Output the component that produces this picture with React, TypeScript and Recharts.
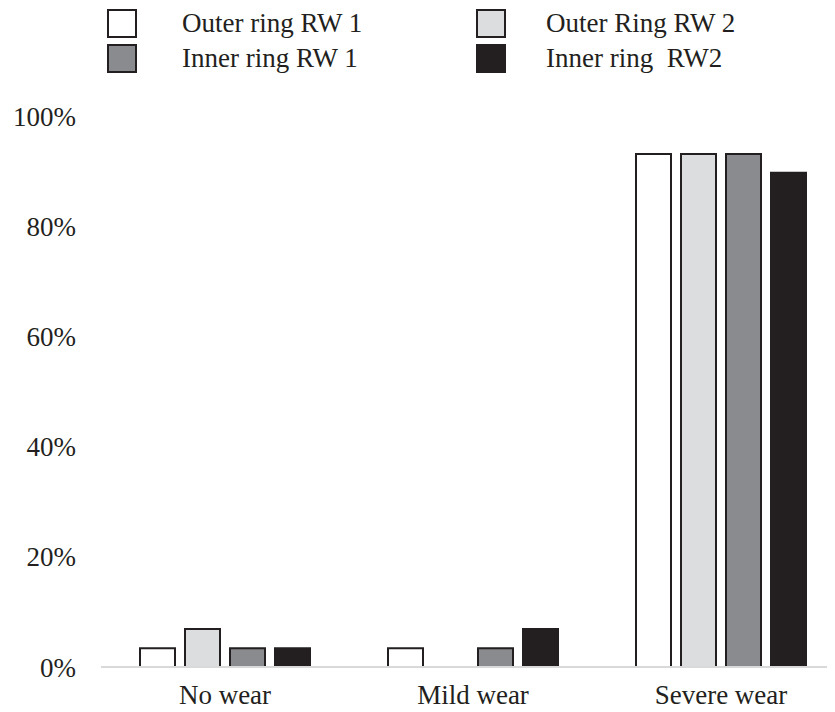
import React from 'react';
import { BarChart, Bar, XAxis, YAxis, Legend } from 'recharts';

const categories = ['No wear', 'Mild wear', 'Severe wear'];
const outerRingRW1 = [3.4, 3.4, 93.1];
const outerRingRW2 = [6.9, 0, 93.1];
const innerRingRW1 = [3.4, 3.4, 93.1];
const innerRingRW2 = [3.4, 6.9, 89.7];
const seriesNames = ['Outer ring RW 1', 'Outer Ring RW 2', 'Inner ring RW 1', 'Inner ring  RW2'];
const yTicks = [0, 20, 40, 60, 80, 100];

const data = categories.map((c, i) => ({
  category: c,
  s0: outerRingRW1[i],
  s1: outerRingRW2[i],
  s2: innerRingRW1[i],
  s3: innerRingRW2[i],
}));

const fills = ['#ffffff', '#dcdddf', '#8a8b8e', '#231f20'];
const STROKE = '#231f20';
const FONT = '"Liberation Serif", "Times New Roman", serif';

const renderLegend = () => {
  const colX = [99, 468];
  const textX = [174, 538];
  const rowY = [1, 36];
  return (
    <div style={{ position: 'relative', width: 837, height: 80, fontFamily: FONT }}>
      {seriesNames.map((name, i) => {
        const col = i % 2;
        const row = Math.floor(i / 2);
        return (
          <React.Fragment key={i}>
            <div
              style={{
                position: 'absolute',
                left: colX[col],
                top: rowY[row],
                width: 30,
                height: 29,
                boxSizing: 'border-box',
                border: `2.5px solid ${STROKE}`,
                background: fills[i],
              }}
            />
            <div
              style={{
                position: 'absolute',
                left: textX[col],
                top: rowY[row] - 1,
                width: 260,
                fontSize: 27,
                lineHeight: '30px',
                color: '#231f20',
                whiteSpace: 'pre',
              }}
            >
              {name}
            </div>
          </React.Fragment>
        );
      })}
    </div>
  );
};

export default function App() {
  return (
    <div style={{ width: 827, height: 704, overflow: 'hidden', position: 'relative', fontFamily: FONT }}>
      <style>{'html,body{overflow:hidden}'}</style>
      <BarChart
        width={837}
        height={704}
        data={data}
        margin={{ top: 108, right: 0, bottom: 8, left: 0 }}
        barSize={35}
        barGap={10}
      >
        <XAxis
          dataKey="category"
          axisLine={{ stroke: '#d9d9d9', strokeWidth: 2 }}
          tickLine={false}
          tickSize={0}
          tickMargin={18}
          height={37}
          tick={{ fill: '#231f20', fontSize: 27, fontFamily: FONT }}
        />
        <YAxis
          domain={[0, 100]}
          ticks={yTicks}
          width={93}
          axisLine={false}
          tickLine={false}
          tickSize={0}
          tickMargin={25}
          tickFormatter={(v: number) => `${v}%`}
          tick={{ fill: '#231f20', fontSize: 27, fontFamily: FONT }}
        />
        <Legend
          verticalAlign="middle"
          align="center"
          layout="horizontal"
          wrapperStyle={{ top: 0, left: 0, width: 837, height: 80 }}
          content={renderLegend}
        />
        <Bar dataKey="s0" name={seriesNames[0]} fill={fills[0]} stroke={STROKE} strokeWidth={2} isAnimationActive={false} />
        <Bar dataKey="s1" name={seriesNames[1]} fill={fills[1]} stroke={STROKE} strokeWidth={2} isAnimationActive={false} />
        <Bar dataKey="s2" name={seriesNames[2]} fill={fills[2]} stroke={STROKE} strokeWidth={2} isAnimationActive={false} />
        <Bar dataKey="s3" name={seriesNames[3]} fill={fills[3]} stroke={STROKE} strokeWidth={2} isAnimationActive={false} />
      </BarChart>
    </div>
  );
}
